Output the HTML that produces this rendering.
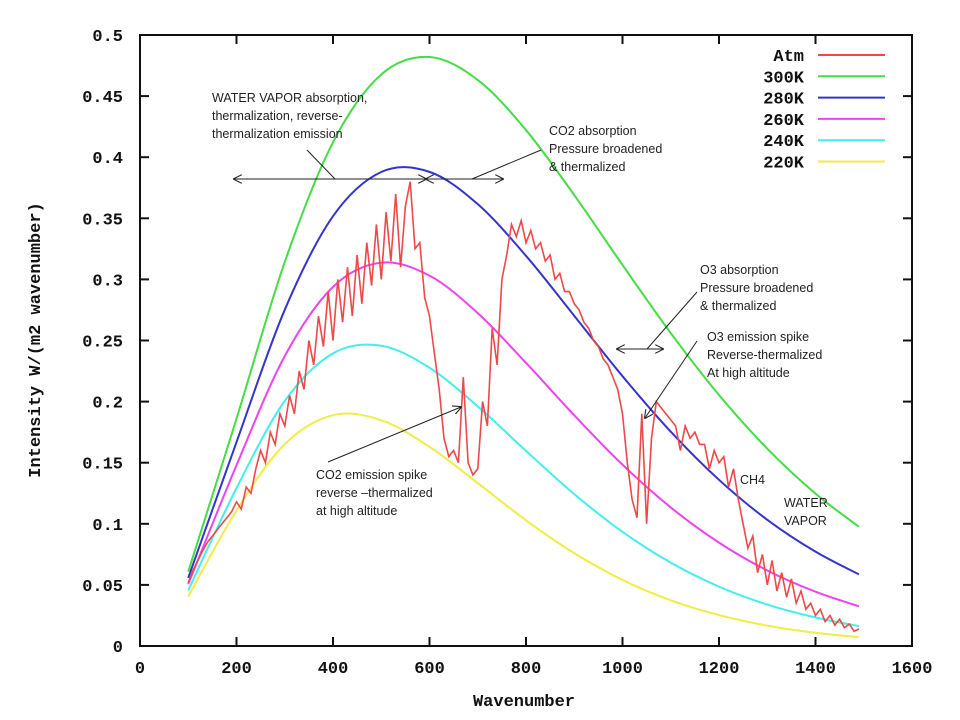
<!DOCTYPE html>
<html><head><meta charset="utf-8"><style>
body{margin:0;background:#fff;width:960px;height:720px;overflow:hidden}
svg{display:block}
.tk{font-family:"Liberation Mono",monospace;font-weight:bold;font-size:17px;fill:#111}
.an{font-family:"Liberation Sans",sans-serif;font-size:12.5px;fill:#222}
</style></head><body>
<svg id="chart" width="960" height="720" xmlns="http://www.w3.org/2000/svg">
<defs><marker id="ah" viewBox="0 0 10 10" refX="9" refY="5" markerWidth="9" markerHeight="9" orient="auto-start-reverse"><path d="M0,0 L10,5 L0,10" fill="none" stroke="#222" stroke-width="1.2"/></marker></defs>
<g id="plot"></g>
<g id="axes"></g>
<g stroke="#222" stroke-width="1" fill="none">
<line x1="428" y1="179" x2="234" y2="179" marker-end="url(#ah)"/>
<line x1="300" y1="179" x2="426" y2="179" marker-end="url(#ah)"/>
<line x1="426" y1="179" x2="503" y2="179" marker-start="url(#ah)" marker-end="url(#ah)"/>
<line x1="307" y1="150" x2="335" y2="179"/>
<line x1="541" y1="150" x2="472" y2="179"/>
<line x1="617" y1="349" x2="663" y2="349" marker-start="url(#ah)" marker-end="url(#ah)"/>
<line x1="697" y1="292" x2="647" y2="349"/>
<line x1="697" y1="341" x2="645" y2="418" marker-end="url(#ah)"/>
<line x1="328" y1="462" x2="461" y2="407" marker-end="url(#ah)"/>
</g>
<g class="an">
<text x="212" y="102">WATER VAPOR absorption,</text>
<text x="212" y="120">thermalization, reverse-</text>
<text x="212" y="138">thermalization emission</text>
<text x="549" y="135">CO2 absorption</text>
<text x="549" y="153">Pressure broadened</text>
<text x="549" y="171">&amp; thermalized</text>
<text x="700" y="274">O3 absorption</text>
<text x="700" y="292">Pressure broadened</text>
<text x="700" y="310">&amp; thermalized</text>
<text x="707" y="341">O3 emission spike</text>
<text x="707" y="359">Reverse-thermalized</text>
<text x="707" y="377">At high altitude</text>
<text x="316" y="479">CO2 emission spike</text>
<text x="316" y="497">reverse –thermalized</text>
<text x="316" y="515">at high altitude</text>
<text x="740" y="484">CH4</text>
<text x="784" y="507">WATER</text>
<text x="784" y="525">VAPOR</text>
</g>
<g id="legend"></g>
</svg>
<script>
const wn=[100,200,300,400,500,600,700,800,900,1000,1100,1200,1300,1400,1490];
const t300=[0.0608,0.186,0.3142,0.4122,0.4677,0.482,0.4632,0.4222,0.369,0.3118,0.2561,0.2054,0.1615,0.1247,0.0976];
const t280=[0.0557,0.1668,0.2751,0.3517,0.3879,0.388,0.3616,0.3193,0.2702,0.2208,0.1754,0.136,0.1033,0.0772,0.0586];
const t260=[0.0506,0.1479,0.2372,0.2939,0.3137,0.3031,0.2724,0.2317,0.1888,0.1484,0.1134,0.0846,0.0618,0.0444,0.0325];
const t240=[0.0456,0.1292,0.2005,0.2395,0.2457,0.2277,0.1961,0.1597,0.1243,0.0934,0.0682,0.0486,0.0339,0.0233,0.0163];
const t220=[0.0405,0.1109,0.1652,0.1889,0.1848,0.163,0.1333,0.1029,0.076,0.0541,0.0374,0.0253,0.0167,0.0108,0.0073];
const atmStart=100, atmStep=10;
const atm=[0.052,0.062,0.07,0.078,0.085,0.09,0.095,0.1,0.105,0.11,
0.118,0.112,0.13,0.125,0.145,0.16,0.15,0.175,0.165,0.19,
0.18,0.205,0.19,0.225,0.21,0.25,0.23,0.27,0.245,0.29,
0.25,0.3,0.265,0.31,0.27,0.32,0.28,0.33,0.295,0.345,
0.3,0.355,0.315,0.37,0.31,0.36,0.38,0.325,0.33,0.285,
0.27,0.24,0.21,0.17,0.155,0.16,0.15,0.22,0.15,0.14,
0.145,0.2,0.18,0.26,0.23,0.3,0.32,0.345,0.335,0.348,
0.33,0.34,0.325,0.33,0.315,0.32,0.3,0.305,0.29,0.29,
0.28,0.275,0.265,0.26,0.25,0.245,0.235,0.23,0.22,0.21,
0.19,0.15,0.12,0.105,0.19,0.1,0.17,0.2,0.195,0.19,
0.185,0.18,0.16,0.18,0.17,0.175,0.165,0.165,0.145,0.16,
0.15,0.155,0.13,0.145,0.12,0.1,0.08,0.09,0.06,0.075,
0.05,0.07,0.045,0.06,0.04,0.055,0.035,0.045,0.03,0.035,
0.025,0.03,0.02,0.025,0.017,0.022,0.015,0.018,0.012,0.014];
const xTicks=[0,200,400,600,800,1000,1200,1400,1600];
const yTicks=[0,0.05,0.1,0.15,0.2,0.25,0.3,0.35,0.4,0.45,0.5];
const yTickLabels=["0","0.05","0.1","0.15","0.2","0.25","0.3","0.35","0.4","0.45","0.5"];
const seriesNames=["Atm","300K","280K","260K","240K","220K"];
const seriesColors=["#ee4848","#44dd44","#3434cc","#ee44ee","#44eeee","#eeee44"];

const L=140,R=912,T=35,B=646;
const xs=v=>L+(v/1600)*(R-L);
const ys=v=>B-(v/0.5)*(B-T);
const NS="http://www.w3.org/2000/svg";
function mk(tag,parent,attrs){const e=document.createElementNS(NS,tag);for(const k in attrs)e.setAttribute(k,attrs[k]);parent.appendChild(e);return e;}
const plot=document.getElementById('plot'),axes=document.getElementById('axes'),legend=document.getElementById('legend');

function smoothPath(xv,yv){
  const p=xv.map((x,i)=>[xs(x),ys(yv[i])]);
  let d="M"+p[0][0]+","+p[0][1];
  for(let i=0;i<p.length-1;i++){
    const p0=p[i-1]||p[i],p1=p[i],p2=p[i+1],p3=p[i+2]||p2;
    const c1=[p1[0]+(p2[0]-p0[0])/6,p1[1]+(p2[1]-p0[1])/6];
    const c2=[p2[0]-(p3[0]-p1[0])/6,p2[1]-(p3[1]-p1[1])/6];
    d+=" C"+c1+" "+c2+" "+p2;
  }
  return d;
}
const curves=[[t300,"curve-300k",1],[t280,"curve-280k",2],[t260,"curve-260k",3],[t240,"curve-240k",4],[t220,"curve-220k",5]];
curves.forEach(c=>{
  const el=mk('path',plot,{d:smoothPath(wn,c[0]),fill:'none',stroke:seriesColors[c[2]],'stroke-width':2});
  
  
});
let d="";
atm.forEach((v,i)=>{const x=xs(atmStart+i*atmStep),y=ys(v);d+=(i?"L":"M")+x.toFixed(1)+","+y.toFixed(1);});
const atmEl=mk('path',plot,{d:d,fill:'none',stroke:seriesColors[0],'stroke-width':1.6});



const frame=mk('rect',axes,{x:L,y:T,width:R-L,height:B-T,fill:'none',stroke:'#111','stroke-width':2});


yTicks.forEach((v,i)=>{
  const y=ys(v);
  mk('line',axes,{x1:L,y1:y,x2:L+9,y2:y,stroke:'#111','stroke-width':2});
  mk('line',axes,{x1:R,y1:y,x2:R-9,y2:y,stroke:'#111','stroke-width':2});
  const t=mk('text',axes,{x:123,y:y+6,'text-anchor':'end',class:'tk'});
  t.textContent=yTickLabels[i];
  
  
});
xTicks.forEach(v=>{
  const x=xs(v);
  mk('line',axes,{x1:x,y1:B,x2:x,y2:B-9,stroke:'#111','stroke-width':2});
  mk('line',axes,{x1:x,y1:T,x2:x,y2:T+9,stroke:'#111','stroke-width':2});
  const t=mk('text',axes,{x:x,y:673,'text-anchor':'middle',class:'tk'});
  t.textContent=String(v);
  
  
});
const xt=mk('text',axes,{x:524,y:706,'text-anchor':'middle',class:'tk'});
xt.textContent="Wavenumber";


const yt=mk('text',axes,{x:0,y:0,'text-anchor':'middle',class:'tk',transform:'translate(40,340) rotate(-90)'});
yt.textContent="Intensity W/(m2 wavenumber)";



seriesNames.forEach((n,i)=>{
  const y=55+i*21.3;
  const t=mk('text',legend,{x:804,y:y+6,'text-anchor':'end',class:'tk'});
  t.textContent=n;
  
  
  const l=mk('line',legend,{x1:818,y1:y,x2:885,y2:y,stroke:seriesColors[i],'stroke-width':2});
  
  
});
</script>
</body></html>
